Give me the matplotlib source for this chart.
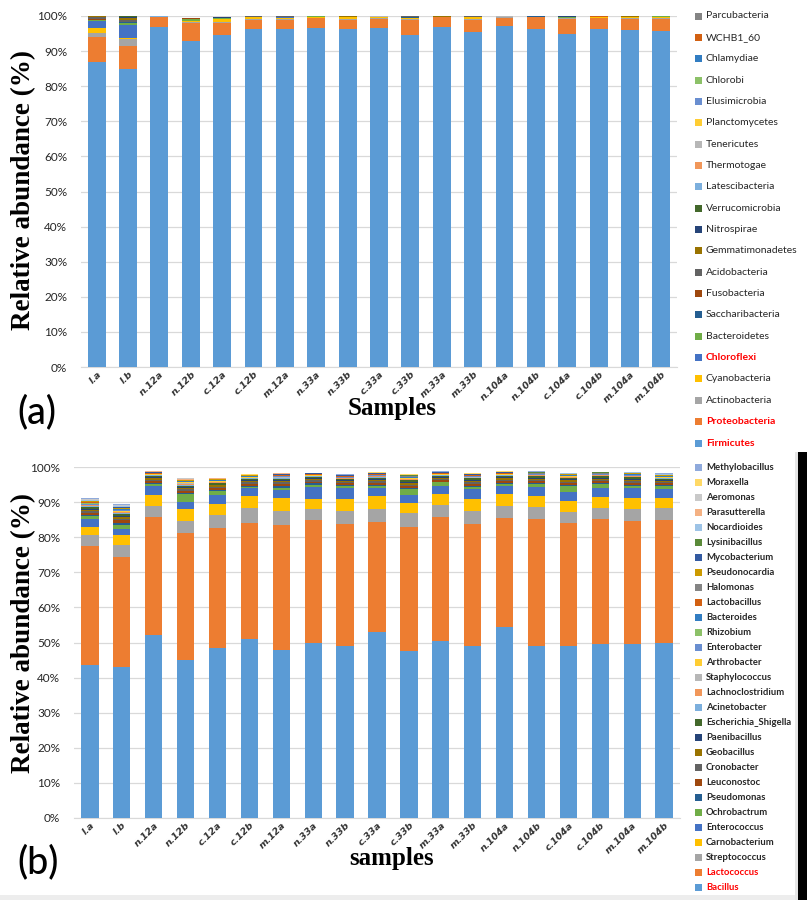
import matplotlib
matplotlib.use("Agg")
import matplotlib.pyplot as plt
from matplotlib.patches import Rectangle
import numpy as np

W, H = 807, 900

samples = ['l.a', 'l.b', 'n.12a', 'n.12b', 'c.12a', 'c.12b', 'm.12a', 'n.33a', 'n.33b',
           'c.33a', 'c.33b', 'm.33a', 'm.33b', 'n.104a', 'n.104b', 'c.104a', 'c.104b',
           'm.104a', 'm.104b']

# ---------------- Panel (a): phyla (bottom -> top) ----------------
phyla_names = ['Firmicutes', 'Proteobacteria', 'Actinobacteria', 'Cyanobacteria', 'Chloroflexi',
               'Bacteroidetes', 'Saccharibacteria', 'Fusobacteria', 'Acidobacteria',
               'Gemmatimonadetes', 'Nitrospirae', 'Verrucomicrobia', 'Latescibacteria',
               'Thermotogae', 'Tenericutes', 'Planctomycetes', 'Elusimicrobia', 'Chlorobi',
               'Chlamydiae', 'WCHB1_60', 'Parcubacteria']
firmicutes = [87.0, 85.0, 96.9, 93.0, 94.6, 96.4, 96.2, 96.6, 96.2, 96.6, 94.6, 96.9, 95.5, 97.1, 96.2, 94.9, 96.2, 96.0, 95.7]
proteobacteria = [6.9, 6.4, 2.7, 5.1, 3.3, 2.5, 2.7, 2.7, 2.6, 2.6, 4.3, 2.7, 3.5, 2.4, 3.4, 4.2, 3.1, 3.2, 3.5]
actinobacteria = [1.3, 2.0, 0.1, 0.3, 0.3, 0.3, 0.2, 0.2, 0.3, 0.2, 0.3, 0.1, 0.2, 0.1, 0.1, 0.3, 0.2, 0.2, 0.2]
cyanobacteria = [1.4, 0.3, 0.0, 0.2, 0.9, 0.5, 0.3, 0.2, 0.5, 0.2, 0.1, 0.1, 0.4, 0.1, 0.0, 0.1, 0.1, 0.2, 0.2]
chloroflexi = [2.0, 3.6, 0.0, 0.1, 0.1, 0.0, 0.2, 0.0, 0.0, 0.0, 0.1, 0.0, 0.0, 0.0, 0.0, 0.0, 0.0, 0.0, 0.0]
bacteroidetes = [0.3, 0.6, 0.1, 0.4, 0.1, 0.1, 0.1, 0.2, 0.1, 0.1, 0.1, 0.0, 0.2, 0.1, 0.1, 0.1, 0.1, 0.2, 0.3]
saccharibacteria = [0.1, 0.3, 0.0, 0.1, 0.1, 0.0, 0.1, 0.0, 0.0, 0.0, 0.1, 0.0, 0.0, 0.0, 0.1, 0.1, 0.0, 0.0, 0.0]
fusobacteria = [0.1, 0.2, 0.0, 0.1, 0.0, 0.0, 0.0, 0.0, 0.0, 0.0, 0.1, 0.0, 0.0, 0.0, 0.0, 0.0, 0.0, 0.0, 0.0]
acidobacteria = [0.7, 0.5, 0.0, 0.1, 0.0, 0.1, 0.1, 0.1, 0.1, 0.1, 0.3, 0.0, 0.1, 0.0, 0.0, 0.1, 0.0, 0.0, 0.0]
gemmatimonadetes = [0.1, 0.6, 0.0, 0.0, 0.1, 0.1, 0.0, 0.1, 0.1, 0.0, 0.1, 0.1, 0.0, 0.0, 0.0, 0.0, 0.0, 0.1, 0.1]
nitrospirae = [0.0, 0.3, 0.0, 0.0, 0.1, 0.0, 0.1, 0.0, 0.0, 0.0, 0.0, 0.0, 0.0, 0.0, 0.0, 0.1, 0.0, 0.0, 0.0]
verrucomicrobia = [0.0, 0.1, 0.0, 0.0, 0.1, 0.0, 0.0, 0.0, 0.0, 0.0, 0.0, 0.0, 0.0, 0.0, 0.0, 0.0, 0.0, 0.0, 0.0]
latescibacteria = [0.0, 0.0, 0.1, 0.0, 0.0, 0.0, 0.0, 0.0, 0.0, 0.0, 0.0, 0.0, 0.0, 0.0, 0.1, 0.0, 0.0, 0.0, 0.0]
thermotogae = [0.0, 0.0, 0.0, 0.1, 0.0, 0.0, 0.0, 0.0, 0.0, 0.0, 0.0, 0.0, 0.0, 0.0, 0.0, 0.0, 0.0, 0.0, 0.0]
tenericutes = [0.0, 0.0, 0.1, 0.0, 0.0, 0.0, 0.0, 0.0, 0.0, 0.1, 0.0, 0.0, 0.0, 0.1, 0.0, 0.0, 0.1, 0.0, 0.0]
planctomycetes = [0.0, 0.0, 0.0, 0.0, 0.1, 0.1, 0.0, 0.0, 0.1, 0.0, 0.0, 0.0, 0.0, 0.0, 0.0, 0.0, 0.0, 0.0, 0.0]
elusimicrobia = [0.0, 0.0, 0.0, 0.0, 0.0, 0.0, 0.1, 0.0, 0.0, 0.0, 0.0, 0.0, 0.0, 0.0, 0.0, 0.0, 0.0, 0.0, 0.0]
chlorobi = [0.0, 0.0, 0.0, 0.0, 0.0, 0.0, 0.0, 0.0, 0.0, 0.0, 0.0, 0.0, 0.1, 0.0, 0.0, 0.0, 0.0, 0.0, 0.1]
chlamydiae = [0.0, 0.0, 0.0, 0.0, 0.0, 0.0, 0.0, 0.0, 0.0, 0.0, 0.0, 0.0, 0.0, 0.0, 0.2, 0.1, 0.0, 0.0, 0.0]
wchb1_60 = [0.0, 0.0, 0.0, 0.0, 0.0, 0.0, 0.0, 0.0, 0.0, 0.0, 0.0, 0.0, 0.0, 0.0, 0.0, 0.0, 0.1, 0.0, 0.0]
parcubacteria = [0.0, 0.0, 0.0, 0.0, 0.0, 0.0, 0.0, 0.0, 0.0, 0.0, 0.1, 0.0, 0.0, 0.0, 0.0, 0.1, 0.0, 0.0, 0.0]
phyla_values = [firmicutes, proteobacteria, actinobacteria, cyanobacteria, chloroflexi,
                bacteroidetes, saccharibacteria, fusobacteria, acidobacteria, gemmatimonadetes,
                nitrospirae, verrucomicrobia, latescibacteria, thermotogae, tenericutes,
                planctomycetes, elusimicrobia, chlorobi, chlamydiae, wchb1_60, parcubacteria]
phyla_red = ['Firmicutes', 'Proteobacteria', 'Chloroflexi']

# ---------------- Panel (b): genera (bottom -> top) ----------------
genera_names = ['Bacillus', 'Lactococcus', 'Streptococcus', 'Carnobacterium', 'Enterococcus',
                'Ochrobactrum', 'Pseudomonas', 'Leuconostoc', 'Cronobacter', 'Geobacillus',
                'Paenibacillus', 'Escherichia_Shigella', 'Acinetobacter', 'Lachnoclostridium',
                'Staphylococcus', 'Arthrobacter', 'Enterobacter', 'Rhizobium', 'Bacteroides',
                'Lactobacillus', 'Halomonas', 'Pseudonocardia', 'Mycobacterium', 'Lysinibacillus',
                'Nocardioides', 'Parasutterella', 'Aeromonas', 'Moraxella', 'Methylobacillus']
bacillus = [43.5, 43.0, 52.0, 45.0, 48.5, 51.0, 48.0, 50.0, 49.0, 53.0, 47.5, 50.5, 49.0, 54.5, 49.0, 49.0, 49.5, 49.5, 50.0]
lactococcus = [33.9, 31.3, 33.7, 36.1, 34.1, 33.1, 35.4, 34.8, 34.8, 31.4, 35.5, 35.2, 34.8, 30.9, 36.2, 35.0, 35.7, 35.1, 35.0]
streptococcus = [3.2, 3.5, 3.2, 3.5, 3.6, 4.3, 4.1, 3.1, 3.6, 3.6, 3.8, 3.5, 3.7, 3.5, 3.5, 3.1, 3.2, 3.3, 3.2]
carnobacterium = [2.3, 2.7, 3.1, 3.4, 3.3, 3.3, 3.6, 3.1, 3.6, 3.8, 3.0, 3.0, 3.4, 3.3, 3.1, 3.3, 3.1, 3.3, 3.0]
enterococcus = [2.3, 1.7, 2.6, 2.1, 2.5, 2.2, 2.4, 3.3, 3.1, 2.3, 2.2, 2.5, 2.7, 2.5, 2.6, 2.6, 2.6, 2.8, 2.6]
ochrobactrum = [0.8, 1.4, 0.5, 2.1, 1.2, 0.5, 0.6, 0.7, 0.4, 0.5, 1.6, 0.9, 0.8, 0.5, 0.7, 1.6, 1.0, 0.6, 0.8]
pseudomonas = [0.3, 0.5, 0.3, 0.3, 0.3, 0.3, 0.4, 0.3, 0.3, 0.3, 0.3, 0.2, 0.3, 0.3, 0.3, 0.3, 0.3, 0.3, 0.3]
leuconostoc = [0.6, 0.7, 0.5, 0.6, 0.5, 0.5, 0.6, 0.5, 0.5, 0.5, 0.6, 0.4, 0.5, 0.5, 0.5, 0.5, 0.5, 0.6, 0.5]
cronobacter = [0.5, 0.4, 0.5, 0.5, 0.4, 0.4, 0.5, 0.4, 0.4, 0.5, 0.5, 0.4, 0.5, 0.4, 0.4, 0.4, 0.4, 0.5, 0.4]
geobacillus = [0.4, 0.5, 0.4, 0.4, 0.4, 0.4, 0.4, 0.4, 0.3, 0.4, 0.4, 0.3, 0.4, 0.4, 0.4, 0.4, 0.4, 0.4, 0.3]
paenibacillus = [0.3, 0.4, 0.3, 0.3, 0.2, 0.3, 0.3, 0.3, 0.3, 0.3, 0.3, 0.3, 0.3, 0.3, 0.3, 0.3, 0.3, 0.3, 0.3]
escherichia_shigella = [0.4, 0.4, 0.4, 0.4, 0.3, 0.4, 0.4, 0.3, 0.3, 0.4, 0.5, 0.3, 0.4, 0.4, 0.4, 0.4, 0.4, 0.4, 0.3]
acinetobacter = [0.4, 0.3, 0.1, 0.2, 0.1, 0.1, 0.1, 0.1, 0.1, 0.2, 0.1, 0.1, 0.1, 0.1, 0.1, 0.1, 0.1, 0.1, 0.1]
lachnoclostridium = [0.2, 0.3, 0.1, 0.3, 0.2, 0.1, 0.2, 0.1, 0.1, 0.1, 0.2, 0.1, 0.1, 0.1, 0.1, 0.1, 0.1, 0.1, 0.1]
staphylococcus = [0.1, 0.2, 0.1, 0.3, 0.2, 0.1, 0.1, 0.1, 0.1, 0.1, 0.2, 0.1, 0.1, 0.1, 0.1, 0.1, 0.1, 0.1, 0.1]
arthrobacter = [0.1, 0.2, 0.1, 0.1, 0.1, 0.1, 0.1, 0.1, 0.1, 0.1, 0.1, 0.1, 0.1, 0.1, 0.1, 0.1, 0.1, 0.1, 0.1]
enterobacter = [0.3, 0.2, 0.1, 0.1, 0.1, 0.1, 0.1, 0.1, 0.1, 0.1, 0.1, 0.1, 0.1, 0.1, 0.1, 0.1, 0.1, 0.2, 0.1]
rhizobium = [0.1, 0.1, 0.0, 0.1, 0.1, 0.0, 0.1, 0.0, 0.0, 0.1, 0.1, 0.0, 0.1, 0.0, 0.0, 0.1, 0.0, 0.1, 0.0]
bacteroides = [0.1, 0.1, 0.1, 0.1, 0.1, 0.1, 0.1, 0.1, 0.1, 0.1, 0.1, 0.1, 0.1, 0.1, 0.1, 0.1, 0.1, 0.1, 0.1]
lactobacillus = [0.1, 0.1, 0.1, 0.1, 0.1, 0.1, 0.1, 0.1, 0.1, 0.1, 0.1, 0.1, 0.1, 0.1, 0.1, 0.1, 0.1, 0.1, 0.1]
halomonas = [0.1, 0.1, 0.1, 0.1, 0.1, 0.1, 0.1, 0.1, 0.1, 0.1, 0.1, 0.1, 0.1, 0.1, 0.1, 0.1, 0.1, 0.1, 0.1]
pseudonocardia = [0.2, 0.3, 0.1, 0.1, 0.1, 0.1, 0.1, 0.1, 0.1, 0.1, 0.1, 0.1, 0.1, 0.1, 0.1, 0.1, 0.1, 0.1, 0.1]
mycobacterium = [0.1, 0.1, 0.1, 0.0, 0.1, 0.1, 0.1, 0.1, 0.1, 0.1, 0.1, 0.1, 0.1, 0.1, 0.1, 0.1, 0.1, 0.1, 0.1]
lysinibacillus = [0.1, 0.1, 0.1, 0.1, 0.0, 0.1, 0.1, 0.1, 0.0, 0.1, 0.1, 0.1, 0.1, 0.1, 0.1, 0.1, 0.1, 0.1, 0.1]
nocardioides = [0.2, 0.2, 0.1, 0.1, 0.1, 0.0, 0.1, 0.0, 0.1, 0.1, 0.1, 0.0, 0.1, 0.1, 0.1, 0.1, 0.1, 0.1, 0.2]
parasutterella = [0.1, 0.2, 0.1, 0.3, 0.1, 0.0, 0.1, 0.0, 0.0, 0.0, 0.1, 0.0, 0.0, 0.0, 0.0, 0.0, 0.0, 0.1, 0.0]
aeromonas = [0.1, 0.1, 0.0, 0.1, 0.1, 0.0, 0.0, 0.0, 0.0, 0.0, 0.0, 0.0, 0.0, 0.0, 0.0, 0.0, 0.0, 0.0, 0.0]
moraxella = [0.1, 0.1, 0.1, 0.1, 0.1, 0.1, 0.1, 0.1, 0.1, 0.1, 0.1, 0.1, 0.1, 0.1, 0.1, 0.1, 0.1, 0.1, 0.1]
methylobacillus = [0.3, 0.2, 0.0, 0.0, 0.0, 0.0, 0.0, 0.0, 0.1, 0.0, 0.0, 0.1, 0.0, 0.0, 0.1, 0.0, 0.0, 0.0, 0.1]
genera_values = [bacillus, lactococcus, streptococcus, carnobacterium, enterococcus, ochrobactrum,
                 pseudomonas, leuconostoc, cronobacter, geobacillus, paenibacillus,
                 escherichia_shigella, acinetobacter, lachnoclostridium, staphylococcus,
                 arthrobacter, enterobacter, rhizobium, bacteroides, lactobacillus, halomonas,
                 pseudonocardia, mycobacterium, lysinibacillus, nocardioides, parasutterella,
                 aeromonas, moraxella, methylobacillus]
genera_red = ['Bacillus', 'Lactococcus']

# Excel Office palette (series order)
palette = ['#5B9BD5', '#ED7D31', '#A5A5A5', '#FFC000', '#4472C4', '#70AD47',
           '#255E91', '#9E480E', '#636363', '#997300', '#264478', '#43682B',
           '#7CAFDD', '#F1975A', '#B7B7B7', '#FFCD33', '#698ED0', '#8CC168',
           '#327DC2', '#D26012', '#848484', '#CC9A00', '#335AA1', '#5A8A39',
           '#9DC3E6', '#F4B183', '#C9C9C9', '#FFD966', '#8FAADC']

LEG_FONT = 'Lato'
SERIF = 'Liberation Serif'

fig = plt.figure(figsize=(W / 100, H / 100), dpi=100)
fig.patch.set_facecolor('white')


def add_ax(x0, x1, ytop, ybot):
    return fig.add_axes([x0 / W, 1 - ybot / H, (x1 - x0) / W, (ybot - ytop) / H])


def draw_panel(ax, names, values, bar_w):
    x = np.arange(len(samples))
    bottom = np.zeros(len(samples))
    for i, (n, v) in enumerate(zip(names, values)):
        v = np.array(v, dtype=float)
        ax.bar(x, v, bottom=bottom, width=bar_w, color=palette[i], linewidth=0, zorder=3)
        bottom += v
    ax.set_xlim(-0.5, len(samples) - 0.5)
    ax.set_ylim(0, 100)
    ax.set_yticks(np.arange(0, 101, 10))
    ax.set_yticklabels([f'{t}%' for t in range(0, 101, 10)], fontsize=8.5,
                       family=LEG_FONT, color='#262626')
    ax.yaxis.grid(True, color='#D9D9D9', linewidth=0.9, zorder=0)
    ax.set_axisbelow(True)
    ax.set_xticks(x)
    ax.set_xticklabels(samples, rotation=45, ha='right', rotation_mode='anchor',
                       fontsize=6.8, family='DejaVu Sans', style='italic', fontweight='bold',
                       color='#333333')
    ax.tick_params(axis='both', length=0)
    ax.tick_params(axis='y', pad=10)
    ax.tick_params(axis='x', pad=2)
    for s in ax.spines.values():
        s.set_visible(False)
    ax.spines['bottom'].set_visible(True)
    ax.spines['bottom'].set_color('#D9D9D9')


# Panel a
axa = add_ax(81, 677, 16, 367)
draw_panel(axa, phyla_names, phyla_values, 0.57)
fig.text(24 / W, 1 - 190 / H, 'Relative abundance (%)', family=SERIF, fontweight='bold',
         fontsize=19.5, rotation=90, ha='center', va='center')
fig.text(392 / W, 1 - 409 / H, 'Samples', family=SERIF, fontweight='bold', fontsize=18,
         ha='center', va='center')
fig.text(17 / W, 1 - 412 / H, '(a)', family=LEG_FONT, fontsize=27, fontweight='medium',
         ha='left', va='center')

# Panel b
axb = add_ax(74, 680, 467, 818)
draw_panel(axb, genera_names, genera_values, 0.54)
fig.text(24 / W, 1 - 633 / H, 'Relative abundance (%)', family=SERIF, fontweight='bold',
         fontsize=19.5, rotation=90, ha='center', va='center')
fig.text(392 / W, 1 - 859 / H, 'samples', family=SERIF, fontweight='bold', fontsize=18,
         ha='center', va='center')
fig.text(17 / W, 1 - 862 / H, '(b)', family=LEG_FONT, fontsize=27, fontweight='medium',
         ha='left', va='center')


def draw_legend(names, red, y_top, y_bottom, fs, weight):
    n = len(names)
    step = (y_bottom - y_top) / (n - 1)
    for k, name in enumerate(reversed(names)):
        idx = n - 1 - k
        yc = y_top + k * step
        fig.patches.append(Rectangle(((695) / W, 1 - (yc + 3.5) / H), 7 / W, 7 / H,
                                     transform=fig.transFigure, color=palette[idx],
                                     linewidth=0))
        isred = name in red
        fig.text(706 / W, 1 - yc / H, name, family=LEG_FONT, fontsize=fs,
                 color='#FF0000' if isred else '#262626',
                 fontweight='bold' if (isred or weight == 'bold') else 'normal',
                 ha='left', va='center')


draw_legend(phyla_names, phyla_red, 16, 443, 7.5, 'normal')
draw_legend(genera_names, genera_red, 468, 887, 6.8, 'bold')

# right-edge strips
fig.patches.append(Rectangle((795 / W, 0), 3 / W, 1 - 452 / H, transform=fig.transFigure,
                             color='#E6E6E6', linewidth=0))
fig.patches.append(Rectangle((798 / W, 0), 9 / W, 1 - 452 / H, transform=fig.transFigure,
                             color='black', linewidth=0))
fig.patches.append(Rectangle((0, 0), 795 / W, 5 / H, transform=fig.transFigure,
                             color='#EDEDED', linewidth=0))

fig.savefig('out.png', dpi=100, facecolor='white')
